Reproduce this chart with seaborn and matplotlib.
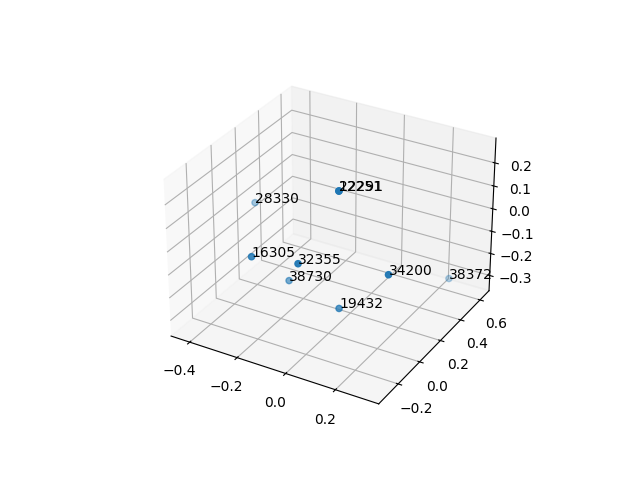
import matplotlib
matplotlib.use("Agg")
import matplotlib.pyplot as plt
import seaborn as sns

labels = ["12251", "22291", "28330", "16305", "32355", "38730", "19432", "34200", "38372"]
xs = [0.082, 0.082, -0.411, -0.178, 0.005, -0.146, 0.091, 0.282, 0.236]
ys = [-0.088, -0.088, 0.217, -0.280, -0.271, -0.036, -0.105, -0.098, 0.609]
zs = [0.307, 0.307, -0.009, 0.034, 0.058, -0.166, -0.180, 0.024, -0.319]
x_ticks = [-0.4, -0.2, 0.0, 0.2]
y_ticks = [-0.2, 0.0, 0.2, 0.4, 0.6]
z_ticks = [-0.3, -0.2, -0.1, 0.0, 0.1, 0.2]

sns.set_palette(["#1f77b4"])
fig = plt.figure(figsize=(6.4, 4.8), dpi=100)
ax = fig.add_subplot(projection="3d")
ax.scatter(xs, ys, zs)
for x, y, z, t in zip(xs, ys, zs, labels):
    ax.text(x, y, z, t)
ax.set_xlim(-0.48, 0.37)
ax.set_ylim(-0.375, 0.695)
ax.set_zlim(-0.37, 0.306)
ax.set_xticks(x_ticks)
ax.set_yticks(y_ticks)
ax.set_zticks(z_ticks)
fig.savefig("out.png", dpi=100)
